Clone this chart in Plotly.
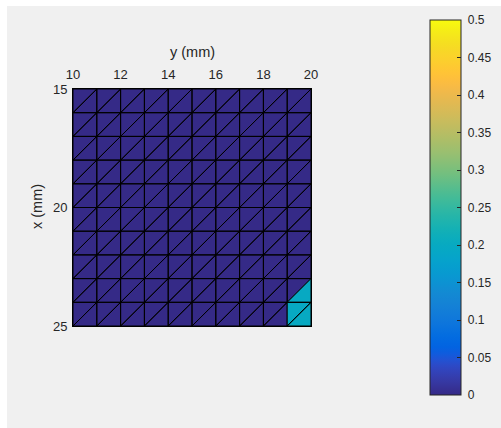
import plotly.graph_objects as go

# Mesh nodes (mm)
y_nodes = [10, 11, 12, 13, 14, 15, 16, 17, 18, 19, 20]   # horizontal axis
x_nodes = [15, 16, 17, 18, 19, 20, 21, 22, 23, 24, 25]   # vertical axis (reversed)

# Element values: rows follow x (15 -> 25), columns follow y (10 -> 20)
# "upper" = triangle above the diagonal (screen), "lower" = below it
upper_vals = [
    [0, 0, 0, 0, 0, 0, 0, 0, 0, 0],
    [0, 0, 0, 0, 0, 0, 0, 0, 0, 0],
    [0, 0, 0, 0, 0, 0, 0, 0, 0, 0],
    [0, 0, 0, 0, 0, 0, 0, 0, 0, 0],
    [0, 0, 0, 0, 0, 0, 0, 0, 0, 0],
    [0, 0, 0, 0, 0, 0, 0, 0, 0, 0],
    [0, 0, 0, 0, 0, 0, 0, 0, 0, 0],
    [0, 0, 0, 0, 0, 0, 0, 0, 0, 0],
    [0, 0, 0, 0, 0, 0, 0, 0, 0, 0],
    [0, 0, 0, 0, 0, 0, 0, 0, 0, 0.2],
]
lower_vals = [
    [0, 0, 0, 0, 0, 0, 0, 0, 0, 0],
    [0, 0, 0, 0, 0, 0, 0, 0, 0, 0],
    [0, 0, 0, 0, 0, 0, 0, 0, 0, 0],
    [0, 0, 0, 0, 0, 0, 0, 0, 0, 0],
    [0, 0, 0, 0, 0, 0, 0, 0, 0, 0],
    [0, 0, 0, 0, 0, 0, 0, 0, 0, 0],
    [0, 0, 0, 0, 0, 0, 0, 0, 0, 0],
    [0, 0, 0, 0, 0, 0, 0, 0, 0, 0],
    [0, 0, 0, 0, 0, 0, 0, 0, 0, 0.2],
    [0, 0, 0, 0, 0, 0, 0, 0, 0, 0.2],
]

cmin, cmax = 0.0, 0.5
cbar_ticks = [0, 0.05, 0.1, 0.15, 0.2, 0.25, 0.3, 0.35, 0.4, 0.45, 0.5]
cbar_ticktext = ["0", "0.05", "0.1", "0.15", "0.2", "0.25", "0.3", "0.35", "0.4", "0.45", "0.5"]
xaxis_ticks = [10, 12, 14, 16, 18, 20]
yaxis_ticks = [15, 20, 25]

# parula (64 entries)
parula_data = [
    [0.2081, 0.1663, 0.5292], [0.2116, 0.1898, 0.5777], [0.2123, 0.2138, 0.6270], [0.2081, 0.2386, 0.6771],
    [0.1959, 0.2645, 0.7279], [0.1707, 0.2919, 0.7792], [0.1253, 0.3242, 0.8303], [0.0591, 0.3598, 0.8683],
    [0.0117, 0.3875, 0.8820], [0.0060, 0.4086, 0.8828], [0.0165, 0.4266, 0.8786], [0.0329, 0.4430, 0.8720],
    [0.0498, 0.4586, 0.8641], [0.0629, 0.4737, 0.8554], [0.0723, 0.4887, 0.8467], [0.0779, 0.5040, 0.8384],
    [0.0793, 0.5200, 0.8312], [0.0749, 0.5375, 0.8263], [0.0641, 0.5570, 0.8240], [0.0488, 0.5772, 0.8228],
    [0.0343, 0.5966, 0.8199], [0.0265, 0.6137, 0.8135], [0.0239, 0.6287, 0.8038], [0.0231, 0.6418, 0.7913],
    [0.0228, 0.6535, 0.7768], [0.0267, 0.6642, 0.7607], [0.0384, 0.6743, 0.7436], [0.0590, 0.6838, 0.7254],
    [0.0843, 0.6928, 0.7062], [0.1133, 0.7015, 0.6859], [0.1453, 0.7098, 0.6646], [0.1801, 0.7177, 0.6424],
    [0.2178, 0.7250, 0.6193], [0.2586, 0.7317, 0.5954], [0.3022, 0.7376, 0.5712], [0.3482, 0.7424, 0.5473],
    [0.3953, 0.7459, 0.5244], [0.4420, 0.7481, 0.5033], [0.4871, 0.7491, 0.4840], [0.5300, 0.7491, 0.4661],
    [0.5709, 0.7485, 0.4494], [0.6099, 0.7473, 0.4337], [0.6473, 0.7456, 0.4188], [0.6834, 0.7435, 0.4044],
    [0.7184, 0.7411, 0.3905], [0.7525, 0.7384, 0.3768], [0.7858, 0.7356, 0.3633], [0.8185, 0.7327, 0.3498],
    [0.8507, 0.7299, 0.3360], [0.8824, 0.7274, 0.3217], [0.9139, 0.7258, 0.3063], [0.9450, 0.7261, 0.2886],
    [0.9739, 0.7314, 0.2666], [0.9938, 0.7455, 0.2403], [0.9990, 0.7653, 0.2164], [0.9955, 0.7861, 0.1967],
    [0.9880, 0.8066, 0.1794], [0.9789, 0.8271, 0.1633], [0.9697, 0.8481, 0.1475], [0.9626, 0.8705, 0.1309],
    [0.9589, 0.8949, 0.1132], [0.9598, 0.9218, 0.0948], [0.9661, 0.9514, 0.0755], [0.9763, 0.9831, 0.0538],
]
parula_rgb = ["rgb(%d,%d,%d)" % tuple(round(c * 255) for c in row) for row in parula_data]
n = len(parula_rgb)
colorscale = [[i / (n - 1), c] for i, c in enumerate(parula_rgb)]


def cmap(v):
    t = (v - cmin) / (cmax - cmin)
    idx = min(max(int(t * n), 0), n - 1)
    return parula_rgb[idx]


# group triangles by value
groups = {}
for i in range(10):
    x0, x1 = x_nodes[i], x_nodes[i + 1]
    for j in range(10):
        y0, y1 = y_nodes[j], y_nodes[j + 1]
        # diagonal from screen bottom-left (y0, x1) to top-right (y1, x0)
        up = ([y0, y1, y0, y0], [x1, x0, x0, x1])
        lo = ([y0, y1, y1, y0], [x1, x0, x1, x1])
        for val, tri in ((upper_vals[i][j], up), (lower_vals[i][j], lo)):
            gx, gy = groups.setdefault(val, ([], []))
            gx.extend(tri[0] + [None])
            gy.extend(tri[1] + [None])

fig = go.Figure()
for val, (gx, gy) in groups.items():
    fig.add_trace(go.Scatter(
        x=gx, y=gy, mode="lines", fill="toself",
        fillcolor=cmap(val), line=dict(color="black", width=1),
        hoverinfo="skip", showlegend=False,
    ))

# colorbar
fig.add_trace(go.Scatter(
    x=[None], y=[None], mode="markers", showlegend=False,
    marker=dict(
        color=[cmin], cmin=cmin, cmax=cmax,
        colorscale=colorscale,
        showscale=True,
        colorbar=dict(
            x=(430 - 73) / 238, xanchor="left", xref="paper",
            y=(326 - 207.5) / 237, yanchor="middle",
            len=375, lenmode="pixels", thickness=31, thicknessmode="pixels",
            outlinecolor="#262626", outlinewidth=1,
            ticks="inside", ticklen=4, tickcolor="#262626",
            tickvals=cbar_ticks, ticktext=["\u00a0" + t for t in cbar_ticktext],
            tickfont=dict(family="Liberation Sans, Arial", size=12, color="#262626"),
            ypad=0, xpad=0,
        ),
    ),
))

fig.update_layout(
    width=501, height=428,
    margin=dict(l=73, r=190, t=89, b=102, autoexpand=False),
    paper_bgcolor="white", plot_bgcolor="#f0f0f0",
    font=dict(family="Liberation Sans, Arial", size=13, color="#262626"),
    xaxis=dict(range=[10, 20], side="top", tickvals=xaxis_ticks,
               showgrid=False, zeroline=False, ticks="", showline=True,
               linecolor="black", mirror=True, linewidth=1,
               ticklabelstandoff=4,
               tickfont=dict(size=13, color="#262626")),
    yaxis=dict(range=[25, 15], tickvals=yaxis_ticks,
               showgrid=False, zeroline=False, ticks="", showline=True,
               linecolor="black", mirror=True, linewidth=1,
               ticklabelstandoff=2,
               tickfont=dict(size=13, color="#262626")),
    shapes=[dict(type="rect", xref="paper", yref="paper", layer="below",
                 x0=(7 - 73) / 238, x1=(501 - 73) / 238 + 0.05,
                 y0=(326 - 428) / 237 - 0.05, y1=(326 - 6) / 237,
                 fillcolor="#f0f0f0", line=dict(width=0))],
    annotations=[
        dict(text="y (mm)", xref="paper", yref="paper", x=0.5, y=(326 - 52) / 237,
             showarrow=False, xanchor="center", yanchor="middle",
             font=dict(size=14.5, color="#262626")),
        dict(text="x (mm)", xref="paper", yref="paper", x=(37 - 73) / 238,
             y=(326 - 207) / 237, textangle=-90, showarrow=False,
             xanchor="center", yanchor="middle",
             font=dict(size=14.5, color="#262626")),
    ],
)

fig.write_html("out.html")
